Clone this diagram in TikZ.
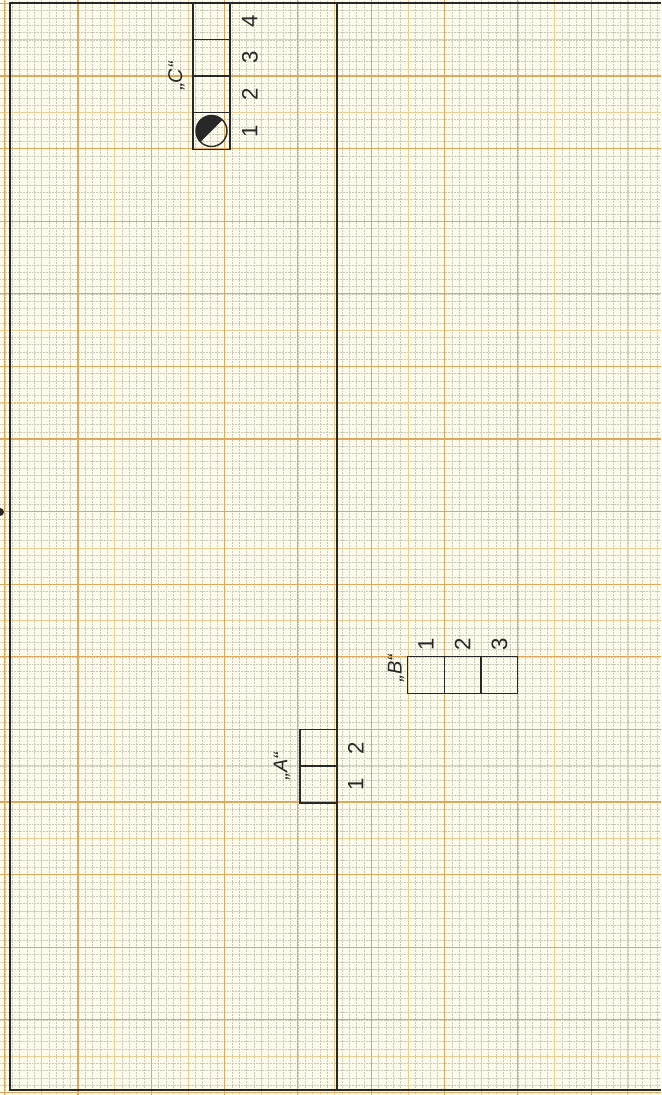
\documentclass[tikz,border=0pt]{standalone}
\usepackage{fontspec}
\usepackage{tikz}
\usetikzlibrary{positioning}
\newfontfamily\handfont{Liberation Sans}
\definecolor{PA}{RGB}{253,252,236}
\definecolor{OR}{RGB}{222,168,95}
\definecolor{LOr}{RGB}{236,205,150}
\definecolor{GR}{RGB}{200,200,185}
\definecolor{DG}{RGB}{40,40,40}

\begin{document}
\begin{tikzpicture}[
  x=0.03cm, y=0.03cm,
  fine/.style={draw=GR, line width=0.3pt, densely dotted},
  half/.style={draw=LOr, line width=0.6pt},
  major/.style={draw=OR, line width=0.9pt},
  rim/.style={draw=DG, line width=1.4pt},
  cell/.style={draw=DG, line width=1.2pt, minimum size=1.1cm, inner sep=0, outer sep=0},
  num/.style={font=\handfont\fontsize{19}{19}\selectfont, text=DG, rotate=90},
  lbl/.style={font=\handfont\itshape\fontsize{17}{17}\selectfont, text=DG, rotate=90}
]
\useasboundingbox (0,0) rectangle (661,1095);

% Paper
\begin{scope}
\clip (0,0) rectangle (661,1095);
\fill[PA] (0,0) rectangle (661,1095);
\foreach \i in {0,...,90}
  \draw[fine] ({4.7+7.33*\i},0) -- ++(0,1095);
\foreach \i in {0,...,151}
  \draw[fine] (0,{1091.6-7.26*\i}) -- ++(661,0);
\foreach \k in {0,...,9}
  \draw[half] ({41.35+73.3*\k},0) -- ++(0,1095);
\foreach \k in {0,...,15}
  \draw[half] (0,{1055.3-72.6*\k}) -- ++(661,0);
\foreach \k in {0,...,9}
  \draw[major] ({4.7+73.3*\k},0) -- ++(0,1095);
\foreach \k in {0,...,15}
  \draw[major] (0,{1091.6-72.6*\k}) -- ++(661,0);
\end{scope}

% Frame
\draw[rim] (661,1092) -- (10,1092) -- (10,5) -- (661,5);
\draw[draw=DG, line width=0.9pt] (337,1092) -- (337,5);
\fill[DG] (0,583) circle (4);

% Box C
\node[cell] (c1) at (211.5,964) {};
\node[cell, above=0pt of c1] (c2) {};
\node[cell, above=0pt of c2] (c3) {};
\node[cell, above=0pt of c3] (c4) {};
\node[circle, draw=DG, line width=1.2pt, minimum size=0.93cm, inner sep=0, outer sep=0] (dot) at (c1) {};
\fill[DG] (dot.45) arc[start angle=45, end angle=225, radius=0.465cm] -- cycle;
\foreach \c/\t in {c1/1,c2/2,c3/3,c4/4}
  \node[num] (n\c) at ([xshift=0.6cm]\c.east) {\t};
\node[lbl] (lc) at ([xshift=-0.5cm]c2.north west) {\quotedblbase C\textquotedblleft};

% Box A
\node[cell] (a1) at (318.5,310.5) {};
\node[cell, above=0pt of a1] (a2) {};
\foreach \c/\t in {a1/1,a2/2}
  \node[num] (n\c) at ([xshift=0.57cm]\c.east) {\t};
\node[lbl] (la) at ([xshift=-0.55cm]a1.north west) {\quotedblbase A\textquotedblleft};

% Box B
\node[cell] (b1) at (426,420) {};
\node[cell, right=0pt of b1] (b2) {};
\node[cell, right=0pt of b2] (b3) {};
\foreach \c/\t in {b1/1,b2/2,b3/3}
  \node[num] (n\c) at ([yshift=0.36cm]\c.north) {\t};
\node[lbl] (lb) at ([xshift=-0.35cm, yshift=0.2cm]b1.west) {\quotedblbase B\textquotedblleft};
\end{tikzpicture}
\end{document}
